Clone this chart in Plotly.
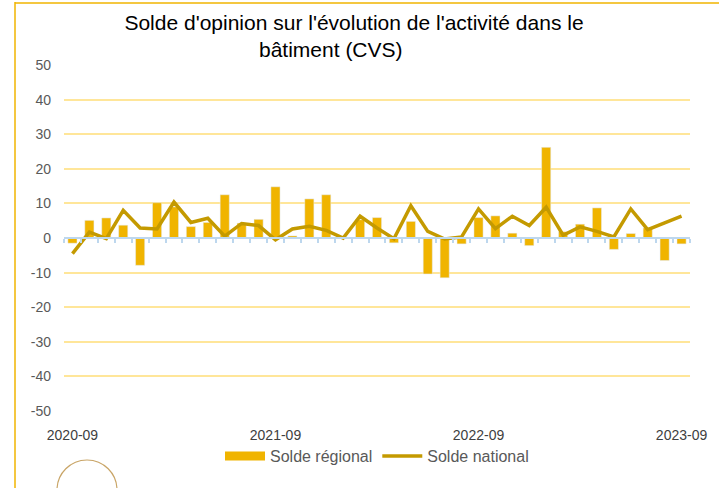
import plotly.graph_objects as go

# months 2020-09 .. 2023-09
months = ["2020-09", "2020-10", "2020-11", "2020-12", "2021-01", "2021-02", "2021-03",
          "2021-04", "2021-05", "2021-06", "2021-07", "2021-08", "2021-09", "2021-10",
          "2021-11", "2021-12", "2022-01", "2022-02", "2022-03", "2022-04", "2022-05",
          "2022-06", "2022-07", "2022-08", "2022-09", "2022-10", "2022-11", "2022-12",
          "2023-01", "2023-02", "2023-03", "2023-04", "2023-05", "2023-06", "2023-07",
          "2023-08", "2023-09"]

solde_regional = [-1.5, 5.1, 5.8, 3.7, -7.9, 10.2, 9.0, 3.3, 4.5, 12.5, 4.3, 5.4, 14.8,
                  0.6, 11.3, 12.5, 0.0, 5.3, 5.9, -1.4, 4.8, -10.4, -11.5, -1.7, 5.9,
                  6.4, 1.4, -2.2, 26.2, 1.8, 4.0, 8.7, -3.3, 1.3, 2.9, -6.5, -1.7]

solde_national = [-4.5, 1.7, -0.2, 8.0, 2.9, 2.6, 10.4, 4.5, 5.7, 0.5, 4.2, 3.6, -0.5,
                  2.6, 3.4, 2.2, 0.0, 6.3, 2.9, -0.2, 9.3, 1.9, -0.3, 0.3, 8.4, 2.7,
                  6.3, 3.6, 8.9, 0.8, 3.2, 1.9, 0.3, 8.4, 2.4, 4.3, 6.3]

x_labels = ["2020-09", "2021-09", "2022-09", "2023-09"]
y_ticks = [-50, -40, -30, -20, -10, 0, 10, 20, 30, 40, 50]
y_ticktext = [str(v) for v in y_ticks]  # plain hyphen like the original

W, H = 719, 488
L, R, T, B = 64, 29, 65, 77
pw, ph = W - L - R, H - T - B

BAR_COL = "#F0B400"
LINE_COL = "#C49A00"
FONT = "Liberation Sans, Arial"

def px_x(p):
    return (p - L) / pw

def px_y(p):
    return (H - B - p) / ph

fig = go.Figure()

fig.add_trace(go.Bar(x=months, y=solde_regional, name="Solde régional",
                     marker_color=BAR_COL, showlegend=False,
                     xaxis="x", yaxis="y"))
fig.add_trace(go.Scatter(x=months, y=solde_national, name="Solde national",
                         mode="lines", line=dict(color=LINE_COL, width=3.5),
                         showlegend=False, xaxis="x2", yaxis="y"))

# legend entries (wide swatches like the original)
fig.add_trace(go.Scatter(x=[None], y=[None], name="Solde régional", mode="lines",
                         line=dict(color=BAR_COL, width=9), xaxis="x2", yaxis="y"))
fig.add_trace(go.Scatter(x=[None], y=[None], name="Solde national", mode="lines",
                         line=dict(color=LINE_COL, width=3.5), xaxis="x2", yaxis="y"))

fig.update_layout(
    width=W, height=H,
    margin=dict(l=L, r=R, t=T, b=B),
    paper_bgcolor="white", plot_bgcolor="white",
    bargap=0.46,
    font=dict(family=FONT, color="#404040"),
    title=dict(text="Solde d'opinion sur l'évolution de l'activité dans le",
               x=354 / W, xanchor="center",
               y=1 - 23 / H, yanchor="middle", yref="container",
               font=dict(size=21, color="#000000", family=FONT)),
    xaxis=dict(type="category", categoryorder="array", categoryarray=months,
               range=[-0.5, len(months) - 0.5],
               tickmode="array", tickvals=x_labels, ticktext=x_labels,
               showgrid=False, showline=False, ticks="", zeroline=False,
               tickfont=dict(size=14, color="#404040"), ticklabelstandoff=14),
    xaxis2=dict(type="category", matches="x", overlaying="x", anchor="free",
                position=0.5, showticklabels=False, showgrid=False,
                showline=True, linecolor="#BDD7EE", linewidth=1.5,
                tickson="boundaries", ticks="outside", ticklen=4,
                tickcolor="#BDD7EE", tickwidth=1.5, dtick=1),
    xaxis3=dict(type="category", matches="x", overlaying="x", anchor="free",
                position=0.5, showticklabels=False, showgrid=False,
                showline=False, tickson="boundaries", ticks="inside", ticklen=4,
                tickcolor="#BDD7EE", tickwidth=1.5, dtick=1),
    yaxis=dict(range=[-50, 50], tickmode="array", tickvals=y_ticks,
               ticktext=y_ticktext, showgrid=True,
               gridcolor="#FFE699", gridwidth=1.5, zeroline=False,
               showline=False, ticks="",
               tickfont=dict(size=14, color="#595959"),
               ticklabelstandoff=12),
    legend=dict(orientation="h", x=px_x(377), xanchor="center", y=px_y(456),
                yanchor="middle", font=dict(size=16, color="#595959"),
                bgcolor="rgba(0,0,0,0)", itemwidth=40, tracegroupgap=0),
    annotations=[dict(text="bâtiment (CVS)", xref="paper", yref="paper",
                      x=px_x(331), y=px_y(49), xanchor="center", yanchor="middle",
                      showarrow=False,
                      font=dict(size=21, color="#000000", family=FONT))],
    shapes=[
        dict(type="line", xref="paper", yref="paper", x0=px_x(15), x1=px_x(15),
             y0=px_y(2), y1=px_y(488), line=dict(color=BAR_COL, width=1.5)),
        dict(type="line", xref="paper", yref="paper", x0=px_x(15), x1=px_x(719),
             y0=px_y(3), y1=px_y(3), line=dict(color=BAR_COL, width=1.5)),
        dict(type="circle", xref="paper", yref="paper", x0=px_x(57), x1=px_x(117),
             y0=px_y(460), y1=px_y(520), line=dict(color="#C9A567", width=1.2)),
    ],
)

fig.write_html("out.html", config={"displayModeBar": False},
               post_script="document.body.style.margin='0';")
